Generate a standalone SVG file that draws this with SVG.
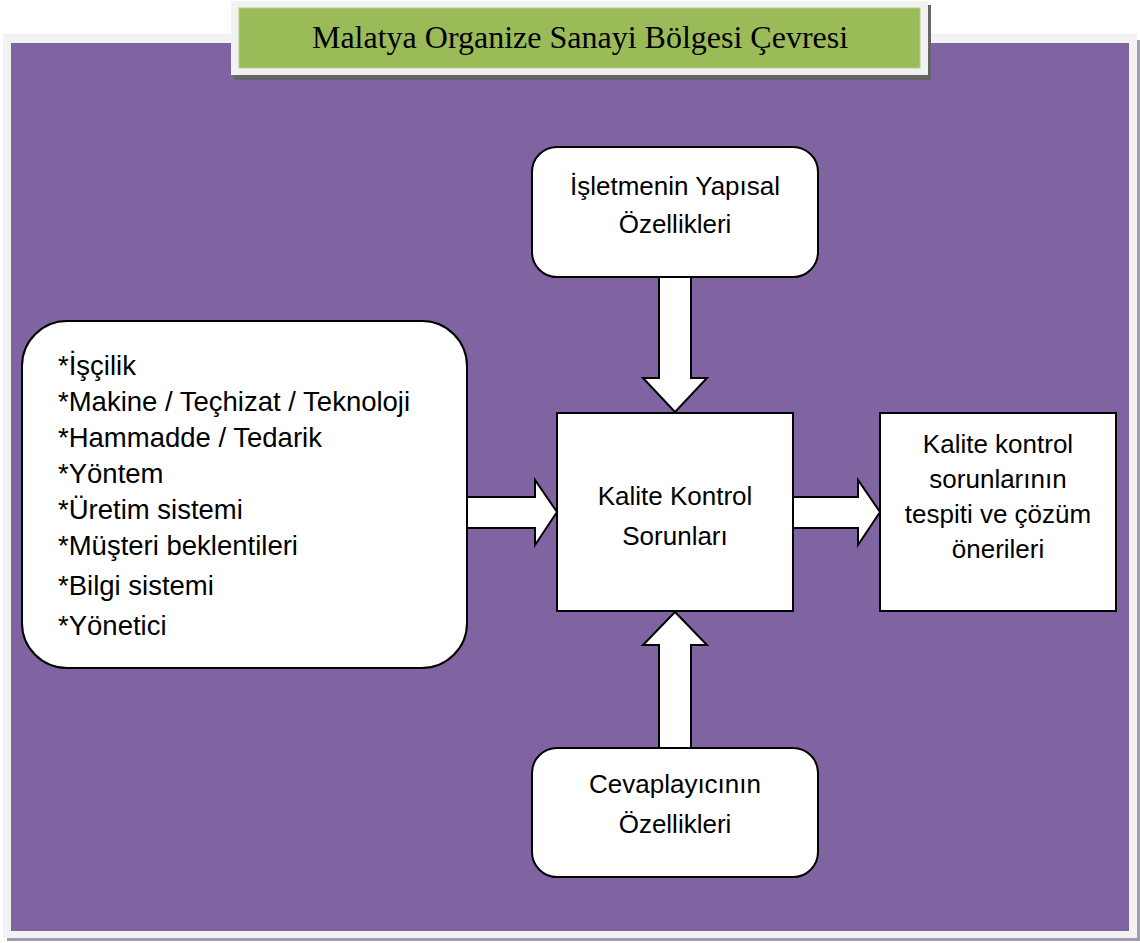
<svg xmlns="http://www.w3.org/2000/svg" width="1140" height="943" viewBox="0 0 1140 943">
<style>
.box{fill:#ffffff;stroke:#000000;stroke-width:2}
.arrow{fill:#ffffff;stroke:#000000;stroke-width:2;stroke-linejoin:miter}
.t{font-family:"Liberation Sans",Arial,sans-serif;font-size:26px;fill:#000000}
.c{text-anchor:middle}
.list{font-family:"Liberation Sans",Arial,sans-serif;font-size:27.5px;fill:#000000}
.title{font-family:"Liberation Serif","Times New Roman",serif;font-size:32px;fill:#000000;text-anchor:middle}
</style>
<rect width="1140" height="943" fill="#ffffff"/>
<g id="frame">
<rect x="7" y="40" width="1133" height="901" fill="#a29dae"/>
<rect x="3" y="34" width="1134" height="904" fill="#f2f2f2"/>
<rect x="11" y="43" width="1118" height="888" fill="#8064a2"/>
</g>
<g id="title">
<rect x="234" y="5" width="697" height="75" fill="#666666"/>
<rect x="231" y="1" width="697" height="74" fill="#f2f2f2"/>
<rect x="239" y="8" width="681" height="60" fill="#9bbb59" stroke="#b5cc86" stroke-width="1"/>
<text class="title" x="580" y="48">Malatya Organize Sanayi Bölgesi Çevresi</text>
</g>
<g id="connectors">
<polygon class="arrow" points="659,277 691,277 691,378 707,378 675,412 643,378 659,378"/>
<polygon class="arrow" points="659,748 659,645 643,645 675,612 707,645 691,645 691,748"/>
<polygon class="arrow" points="467,497 535,497 535,480 557,512 535,545 535,528 467,528"/>
<polygon class="arrow" points="793,497 858,497 858,480 880,512 858,545 858,528 793,528"/>
</g>
<g id="node-yapisal">
<rect class="box" x="532" y="147" width="286" height="130" rx="25" ry="25"/>
<text class="t c" x="675" y="195">İşletmenin Yapısal</text>
<text class="t c" x="675" y="233">Özellikleri</text>
</g>
<g id="node-faktorler">
<rect class="box" x="22" y="321" width="445" height="347" rx="45" ry="45"/>
<text class="list" x="58" y="375">*İşçilik</text>
<text class="list" x="58" y="411">*Makine / Teçhizat / Teknoloji</text>
<text class="list" x="58" y="447">*Hammadde / Tedarik</text>
<text class="list" x="58" y="483">*Yöntem</text>
<text class="list" x="58" y="519">*Üretim sistemi</text>
<text class="list" x="58" y="555">*Müşteri beklentileri</text>
<text class="list" x="58" y="595">*Bilgi sistemi</text>
<text class="list" x="58" y="635">*Yönetici</text>
</g>
<g id="node-sorunlar">
<rect class="box" x="557" y="413" width="236" height="198"/>
<text class="t c" x="675" y="505">Kalite Kontrol</text>
<text class="t c" x="675" y="545">Sorunları</text>
</g>
<g id="node-cozum">
<rect class="box" x="880" y="413" width="236" height="198"/>
<text class="t c" x="998" y="453">Kalite kontrol</text>
<text class="t c" x="998" y="488">sorunlarının</text>
<text class="t c" x="998" y="523">tespiti ve çözüm</text>
<text class="t c" x="998" y="558">önerileri</text>
</g>
<g id="node-cevaplayici">
<rect class="box" x="532" y="748" width="286" height="129" rx="25" ry="25"/>
<text class="t c" x="675" y="793">Cevaplayıcının</text>
<text class="t c" x="675" y="833">Özellikleri</text>
</g>
</svg>
